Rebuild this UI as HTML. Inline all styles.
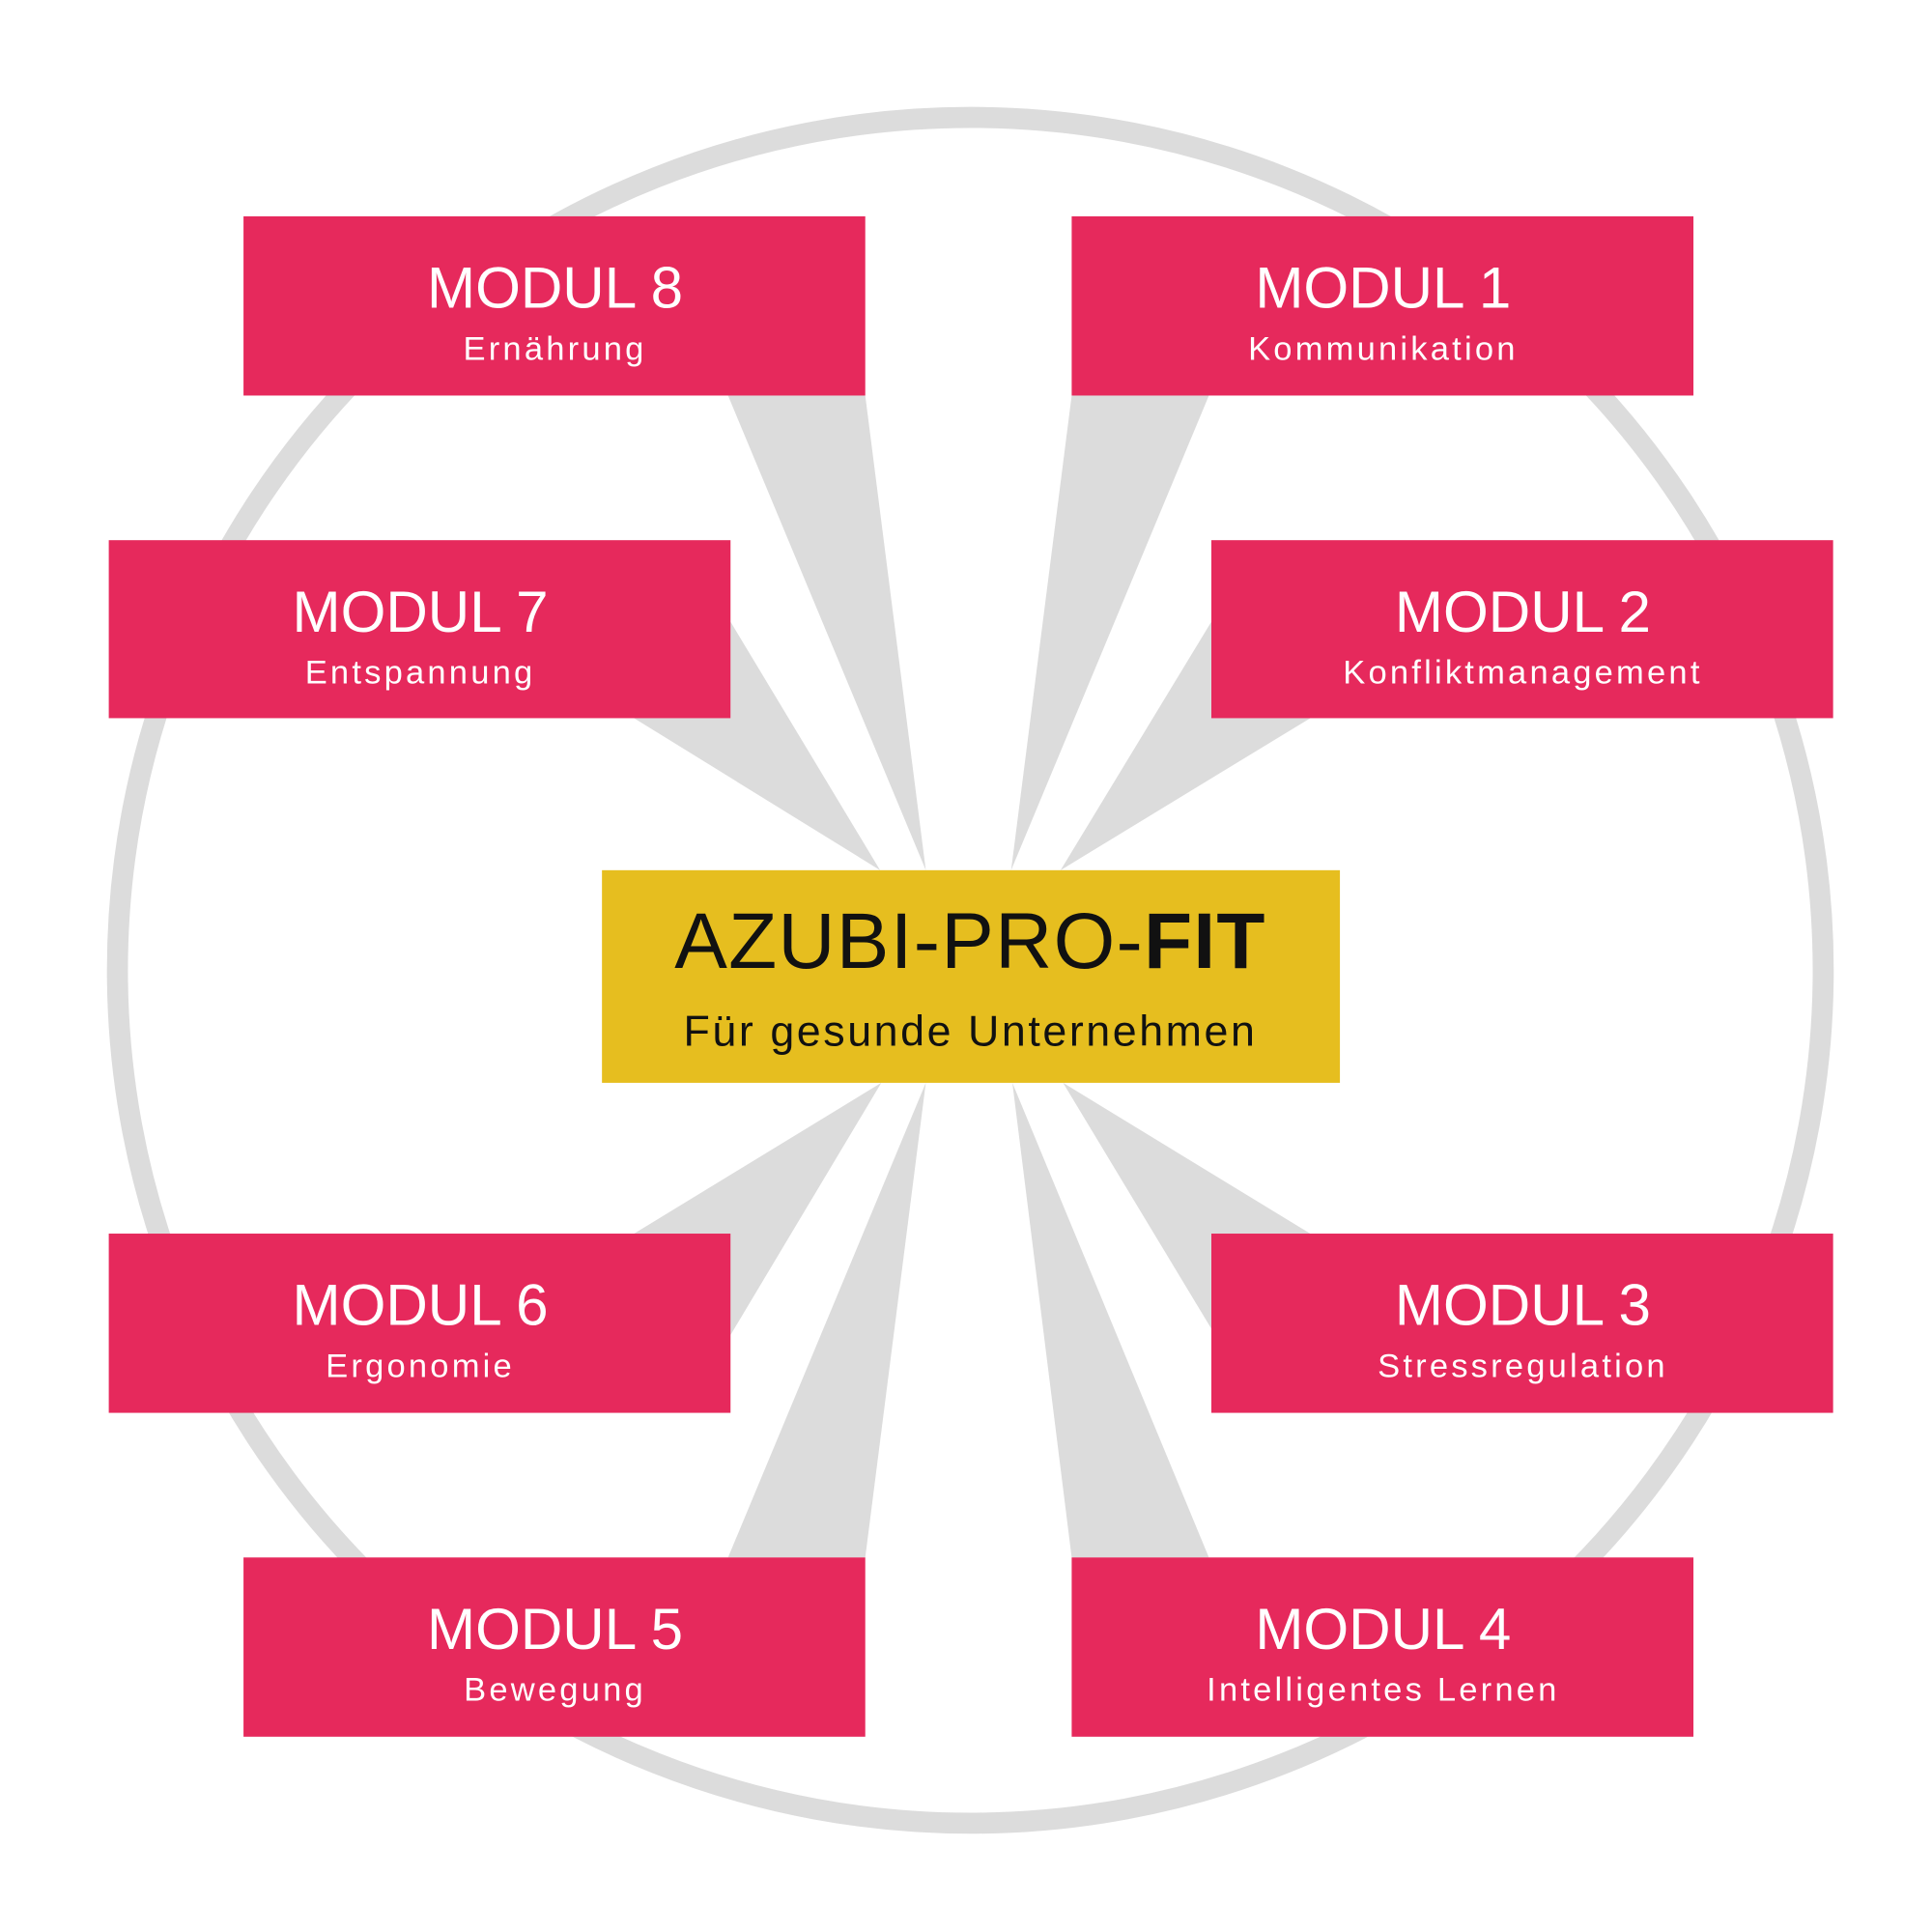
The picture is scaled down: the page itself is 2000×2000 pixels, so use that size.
<!DOCTYPE html>
<html><head><meta charset="utf-8"><style>
html,body{margin:0;padding:0;background:#fff;}
svg{display:block;}
text{font-family:"Liberation Sans",sans-serif;}
.s{letter-spacing:2.5px;}
</style></head><body>
<svg width="2000" height="2000" viewBox="0 0 1563 1563" xmlns="http://www.w3.org/2000/svg">
<rect width="1563" height="1563" fill="#fff"/>
<circle cx="785" cy="785" r="690" fill="none" stroke="#dcdcdc" stroke-width="17"/>
<g fill="#dcdcdc">
<polygon points="589,320 700,320 749,704"/>
<polygon points="867,320 978,320 818,704"/>
<polygon points="591,503 591,581 513,581 712,704"/>
<polygon points="980,503 980,581 1060,581 858,704"/>
<polygon points="713,876 513,998 591,998 591,1080"/>
<polygon points="860,876 1060,998 980,998 980,1075"/>
<polygon points="749,876 589,1260 700,1260"/>
<polygon points="819,876 978,1260 867,1260"/>
</g>
<g fill="#e6295c">
<rect x="197" y="175" width="503" height="145"/>
<rect x="867" y="175" width="503" height="145"/>
<rect x="88" y="437" width="503" height="144"/>
<rect x="980" y="437" width="503" height="144"/>
<rect x="88" y="998" width="503" height="145"/>
<rect x="980" y="998" width="503" height="145"/>
<rect x="197" y="1260" width="503" height="145"/>
<rect x="867" y="1260" width="503" height="145"/>
</g>
<rect x="487" y="704" width="597" height="172" fill="#e6be1f"/>
<g fill="#fff" text-anchor="middle">
<text x="449" y="249" font-size="47">MODUL 8</text><text class="s" x="449" y="291" font-size="27">Ernährung</text>
<text x="1119" y="249" font-size="47">MODUL 1</text><text class="s" x="1119" y="291" font-size="27">Kommunikation</text>
<text x="340" y="511" font-size="47">MODUL 7</text><text class="s" x="340" y="553" font-size="27">Entspannung</text>
<text x="1232" y="511" font-size="47">MODUL 2</text><text class="s" x="1232" y="553" font-size="27">Konfliktmanagement</text>
<text x="340" y="1072" font-size="47">MODUL 6</text><text class="s" x="340" y="1114" font-size="27">Ergonomie</text>
<text x="1232" y="1072" font-size="47">MODUL 3</text><text class="s" x="1232" y="1114" font-size="27">Stressregulation</text>
<text x="449" y="1334" font-size="47">MODUL 5</text><text class="s" x="449" y="1376" font-size="27">Bewegung</text>
<text x="1119" y="1334" font-size="47">MODUL 4</text><text class="s" x="1119" y="1376" font-size="27">Intelligentes Lernen</text>
</g>
<g fill="#111" text-anchor="middle">
<text x="785" y="783" font-size="64" letter-spacing="1">AZUBI-<tspan font-weight="500">PRO</tspan>-<tspan font-weight="bold">FIT</tspan></text>
<text x="785" y="846" font-size="35" letter-spacing="2">Für gesunde Unternehmen</text>
</g>
</svg>
</body></html>
